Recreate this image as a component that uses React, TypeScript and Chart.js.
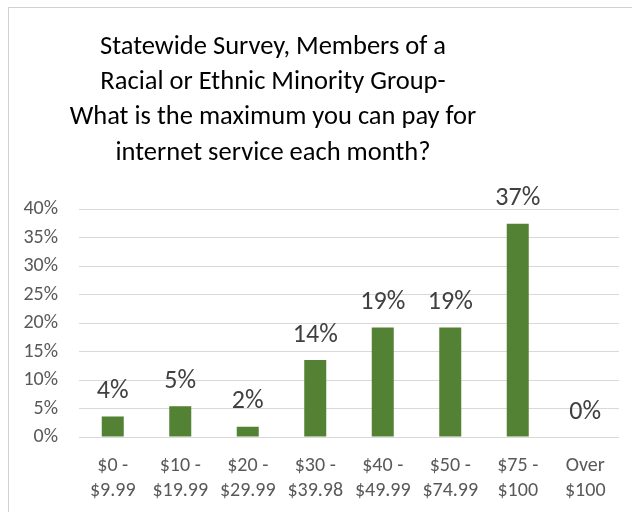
import React, { useEffect, useRef } from "react";
import { Chart, registerables } from "chart.js";

Chart.register(...registerables);

const titleLines = [
  "Statewide Survey, Members of a",
  "Racial or Ethnic Minority Group-",
  "What is the maximum you can pay for",
  "internet service each month?",
];

const categories: string[][] = [
  ["$0 -", "$9.99"],
  ["$10 -", "$19.99"],
  ["$20 -", "$29.99"],
  ["$30 -", "$39.98"],
  ["$40 -", "$49.99"],
  ["$50 -", "$74.99"],
  ["$75 -", "$100"],
  ["Over", "$100"],
];

const values = [3.6, 5.4, 1.8, 13.5, 19.2, 19.2, 37.4, 0];
const valueLabels = ["4%", "5%", "2%", "14%", "19%", "19%", "37%", "0%"];

const FONT = "Carlito, 'Liberation Sans Narrow', 'DejaVu Sans Condensed', sans-serif";

const dataLabelPlugin = {
  id: "dataLabels",
  afterDatasetsDraw(chart: any) {
    const ctx = chart.ctx;
    const meta = chart.getDatasetMeta(0);
    ctx.save();
    ctx.font = `26px ${FONT}`;
    ctx.fillStyle = "#404040";
    ctx.textAlign = "center";
    ctx.textBaseline = "middle";
    meta.data.forEach((el: any, i: number) => {
      ctx.fillText(valueLabels[i], el.x, el.y - 25);
    });
    ctx.restore();
  },
};

const titlePlugin = {
  id: "customTitle",
  afterDraw(chart: any) {
    const ctx = chart.ctx;
    ctx.save();
    ctx.font = `26.5px ${FONT}`;
    ctx.fillStyle = "#000000";
    ctx.textAlign = "center";
    ctx.textBaseline = "middle";
    titleLines.forEach((line, i) => {
      ctx.fillText(line, 273, 47 + i * 35.3);
    });
    ctx.restore();
  },
};

export default function App() {
  const ref = useRef<HTMLCanvasElement>(null);
  useEffect(() => {
    if (!ref.current) return;
    const chart = new Chart(ref.current, {
      type: "bar",
      data: {
        labels: categories,
        datasets: [
          {
            data: values,
            backgroundColor: "#548235",
            barPercentage: 0.326,
            categoryPercentage: 1,
          },
        ],
      },
      options: {
        animation: false,
        responsive: false,
        layout: { padding: { left: 0, right: 13, top: 209, bottom: 0 } },
        plugins: {
          legend: { display: false },
          tooltip: { enabled: false },
          title: { display: false },
        },
        scales: {
          x: {
            afterFit(scale: any) {
              scale.height = 75;
            },
            grid: { display: false, drawTicks: false },
            border: { display: false },
            ticks: {
              color: "#595959",
              font: { family: FONT, size: 20, lineHeight: 1.25 },
              padding: 16,
              maxRotation: 0,
              autoSkip: false,
            },
          },
          y: {
            min: 0,
            max: 40,
            afterFit(scale: any) {
              scale.width = 79;
            },
            grid: { color: "#d9d9d9", drawTicks: false },
            border: { display: false },
            ticks: {
              stepSize: 5,
              color: "#595959",
              font: { family: FONT, size: 20 },
              padding: 21,
              callback: (v: any) => `${v}%`,
            },
          },
        },
      },
      plugins: [dataLabelPlugin, titlePlugin],
    });
    return () => chart.destroy();
  }, []);
  return (
    <div style={{ position: "fixed", left: 0, top: 0, width: 632, height: 512, background: "#fff", overflow: "hidden" }}>
      <div
        style={{
          position: "absolute",
          left: 8,
          top: 7,
          width: 640,
          height: 520,
          border: "1px solid #d0d0d0",
          boxSizing: "border-box",
        }}
      />
      <canvas ref={ref} width={632} height={512} style={{ position: "absolute", left: 0, top: 0 }} />
    </div>
  );
}
